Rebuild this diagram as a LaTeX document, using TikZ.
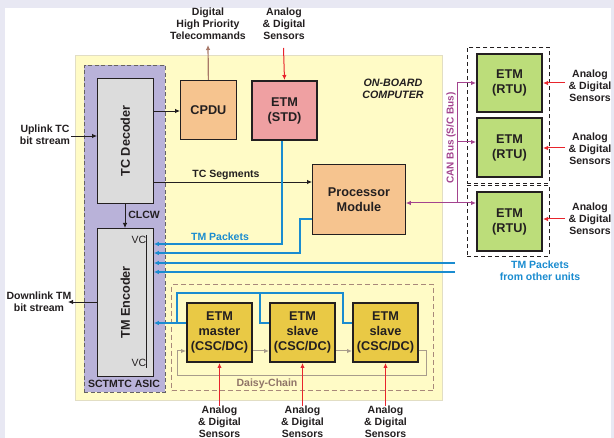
\documentclass[tikz,border=0pt]{standalone}
\usepackage{fontspec}
\setmainfont{Liberation Sans}
\usetikzlibrary{arrows.meta}

\definecolor{frameC}{HTML}{E8E8F3}
\definecolor{obcC}{HTML}{FFFBC6}
\definecolor{obcB}{HTML}{E2DEC4}
\definecolor{asicC}{HTML}{B9B2D9}
\definecolor{grayBox}{HTML}{DCDCDC}
\definecolor{orangeC}{HTML}{F6C48F}
\definecolor{pinkC}{HTML}{EFA0A2}
\definecolor{greenC}{HTML}{BCDD7A}
\definecolor{goldC}{HTML}{E9C945}
\definecolor{ink}{HTML}{231F20}
\definecolor{tmblue}{HTML}{1A8CD0}
\definecolor{sensred}{HTML}{E8242C}
\definecolor{canpurple}{HTML}{A3438E}
\definecolor{cpdubrown}{HTML}{A87868}
\definecolor{chaingray}{HTML}{A89C8C}
\definecolor{daisybrown}{HTML}{A8887A}

\tikzset{
  tip/.style={-{Latex[length=5pt,width=4.5pt]}},
  box/.style={draw=ink, line width=0.8pt, inner sep=0pt, anchor=north west,
    font=\fontsize{12.7}{15}\selectfont\bfseries, text=ink, align=center},
  etmbox/.style={box, line width=2pt},
  lbl/.style={font=\fontsize{10.5}{12}\selectfont\bfseries, text=ink,
    align=center, inner sep=0pt},
  blk/.style={draw=ink, line width=0.8pt},
  tm/.style={draw=tmblue, line width=1.1pt},
  sens/.style={draw=sensred, line width=1pt, tip},
  can/.style={draw=canpurple, line width=1pt},
  chain/.style={draw=chaingray, line width=1pt},
  dashbox/.style={draw=ink, line width=0.9pt, dash pattern=on 4pt off 3pt}
}

\begin{document}
\begin{tikzpicture}[x=1pt, y=-1pt]
\useasboundingbox (0,0) rectangle (614,438);
\fill[frameC] (0,0) rectangle (614,438);
\fill[white] (5,8) rectangle (611,438);

% on-board computer area
\node[draw=obcB, fill=obcC, line width=0.8pt, inner sep=0pt, anchor=north west,
  minimum width=367pt, minimum height=345pt] (obc) at (75,55) {};
\node[lbl, font=\fontsize{10.7}{12}\selectfont\bfseries\itshape] (obclabel) at (393,89) {ON-BOARD\\COMPUTER};

% SCTMTC ASIC
\node[draw=ink!70, fill=asicC, line width=0.9pt, dash pattern=on 4pt off 2.5pt,
  inner sep=0pt, anchor=north west, minimum width=81pt, minimum height=327pt] (asic) at (84,65) {};
\node[lbl] (asiclabel) at (124,384) {SCTMTC ASIC};

\node[box, fill=grayBox, minimum width=56pt, minimum height=125pt] (dec) at (97,78)
  {\rotatebox{90}{TC Decoder}};
\node[box, fill=grayBox, minimum width=56pt, minimum height=148pt] (enc) at (97,228)
  {\rotatebox{90}{TM Encoder}};

% virtual channel inputs
\coordinate (vctop) at (146,235);
\coordinate (vcbot) at (146,368);
\draw[ink, line width=0.8pt] (vctop) -- (vcbot);
\node[font=\fontsize{10.5}{12}\selectfont, text=ink, anchor=east, inner sep=0pt] (vc1) at (146.5,240) {VC};
\node[font=\fontsize{10.5}{12}\selectfont, text=ink, anchor=east, inner sep=0pt] (vc2) at (146.5,363) {VC};

% CLCW
\draw[blk, tip] (dec.south -| 125,0) -- (enc.north -| 125,0);
\node[lbl] (clcw) at (144,215) {CLCW};

% CPDU and standard ETM
\node[box, fill=orangeC, minimum width=56pt, minimum height=59pt] (cpdu) at (180,80) {CPDU};
\node[etmbox, fill=pinkC, minimum width=65pt, minimum height=59pt] (etmstd) at (251,80) {ETM\\(STD)};
\node[lbl] (hptc) at (208,24) {Digital\\High Priority\\Telecommands};
\node[lbl] (sensstd) at (284,24) {Analog\\\& Digital\\Sensors};
\coordinate (hptcend) at (208,45);
\coordinate (sensstdend) at (283.5,48);
\draw[draw=cpdubrown, line width=1.2pt, tip] (cpdu.north) -- (hptcend);
\draw[sens] (sensstdend) -- (etmstd.north);

% processor module
\node[box, fill=orangeC, minimum width=93pt, minimum height=70pt] (pm) at (312,164) {Processor\\Module};

% uplink / downlink
\node[lbl] (uplink) at (45,135) {Uplink TC\\bit stream};
\node[lbl] (downlink) at (39,302) {Downlink TM\\bit stream};
\coordinate (upstart) at (71,136);
\coordinate (downend) at (68,302);
\draw[blk, tip] (upstart) -- (dec.west |- upstart);
\draw[blk, tip] (enc.west |- downend) -- (downend);

% decoder outputs
\draw[blk, tip] (dec.east |- 0,111) -- (cpdu.west |- 0,111);
\draw[blk, tip] (dec.east |- 0,182) -- (pm.west |- 0,182);
\node[lbl] (tcseg) at (226,175) {TC Segments};

% TM packets into the encoder
\draw[tm, tip] (etmstd.south -| 282,0) |- (enc.east |- 0,244);
\draw[tm, tip] (pm.west |- 0,219) -| (300,253) -- (enc.east |- 0,253);
\node[lbl, text=tmblue] (tmpk) at (220,237) {TM Packets};
\coordinate (oth1) at (455,263);
\coordinate (oth2) at (455,272);
\draw[tm, tip] (oth1) -- (enc.east |- oth1);
\draw[tm, tip] (oth2) -- (enc.east |- oth2);
\node[lbl, text=tmblue] (othlabel) at (540,271) {TM Packets\\from other units};

% remote terminal units
\node[dashbox, inner sep=0pt, anchor=north west, minimum width=82pt, minimum height=136pt] (rtugrp1) at (467,47) {};
\node[dashbox, inner sep=0pt, anchor=north west, minimum width=82pt, minimum height=71pt] (rtugrp2) at (467,185) {};
\node[etmbox, fill=greenC, minimum width=65pt, minimum height=58pt] (rtu1) at (476,53) {ETM\\(RTU)};
\node[etmbox, fill=greenC, minimum width=65pt, minimum height=59pt] (rtu2) at (476,117) {ETM\\(RTU)};
\node[etmbox, fill=greenC, minimum width=65pt, minimum height=59pt] (rtu3) at (476,191) {ETM\\(RTU)};

\foreach \r/\y/\t in {rtu1/83/86, rtu2/148/149, rtu3/219/219} {
  \coordinate (\r s) at (565,\y);
  \draw[sens] (\r s) -- (\r.east |- \r s);
  \node[lbl] (\r lbl) at (590,\t) {Analog\\\& Digital\\Sensors};
}

% CAN bus
\coordinate (cantop) at (457,83);
\coordinate (canbot) at (457,203);
\draw[can] (cantop) -- (canbot);
\draw[can, tip] (cantop) -- (rtu1.west |- cantop);
\draw[can, tip] (457,142) -- (rtu2.west |- 0,142);
\draw[can, {Latex[length=5pt,width=4.5pt]}-{Latex[length=5pt,width=4.5pt]}] (pm.east |- canbot) -- (rtu3.west |- canbot);
\node[lbl, text=canpurple, font=\fontsize{10}{12}\selectfont\bfseries, rotate=90] (canlbl) at (451,138) {CAN Bus (S/C Bus)};

% daisy-chained ETMs
\node[draw=daisybrown, line width=1.1pt, dash pattern=on 5pt off 3pt, inner sep=0pt,
  anchor=north west, minimum width=262pt, minimum height=106pt] (daisy) at (171,284) {};
\node[lbl, text=daisybrown!85!black] (daisylbl) at (267,384) {Daisy-Chain};
\node[etmbox, fill=goldC, minimum width=65pt, minimum height=59pt] (master) at (186,302) {ETM\\master\\(CSC/DC)};
\node[etmbox, fill=goldC, minimum width=65pt, minimum height=59pt] (slave1) at (269,302) {ETM\\slave\\(CSC/DC)};
\node[etmbox, fill=goldC, minimum width=65pt, minimum height=59pt] (slave2) at (352,302) {ETM\\slave\\(CSC/DC)};

% telemetry bus of the chain
\draw[tm, tip] (master.west |- 0,323) -- (enc.east |- 0,323);
\draw[tm] (177,323) -- (177,293) -- (343,293) -- (343,323) -- (slave2.west |- 0,323);
\draw[tm] (260,293) -- (260,323) -- (slave1.west |- 0,323);

% daisy-chain links
\draw[chain, tip] (master.east |- 0,351) -- (slave1.west |- 0,351);
\draw[chain, tip] (slave1.east |- 0,351) -- (slave2.west |- 0,351);
\draw[chain, tip] (slave2.east |- 0,351) -- (426,351) -- (426,376) -- (177,376) -- (177,351) -- (master.west |- 0,351);

% sensors of the chain
\foreach \n in {master, slave1, slave2} {
  \coordinate (\n s) at ([yshift=-43pt]\n.south);
  \draw[sens] (\n s) -- (\n.south);
  \node[lbl] (\n lbl) at ([yshift=-58.5pt]\n.south) {Analog\\\& Digital\\Sensors};
}
\end{tikzpicture}
\end{document}
